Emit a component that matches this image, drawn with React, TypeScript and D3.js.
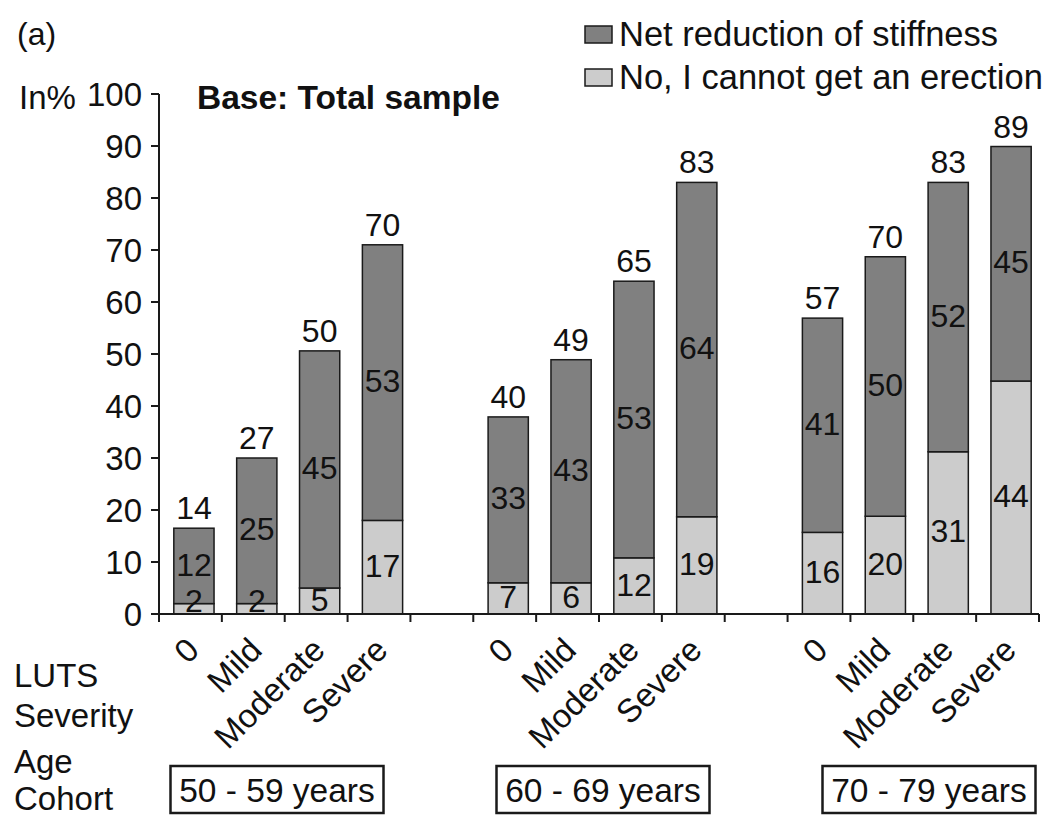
import React from "react";
import * as d3 from "d3";

// ---- data ----
const cohorts = ["50 - 59 years", "60 - 69 years", "70 - 79 years"];
const severities = ["0", "Mild", "Moderate", "Severe"];
// drawn segment heights
const noErection = [2, 2, 5, 18, 6, 6, 10.8, 18.7, 15.7, 18.8, 31.2, 44.8];
const netReduction = [14.5, 28, 45.6, 53, 31.9, 42.9, 53.2, 64.3, 41.2, 49.9, 51.8, 45.1];
// printed labels
const noErectionLabels = [2, 2, 5, 17, 7, 6, 12, 19, 16, 20, 31, 44];
const netReductionLabels = [12, 25, 45, 53, 33, 43, 53, 64, 41, 50, 52, 45];
const totalLabels = [14, 27, 50, 70, 40, 49, 65, 83, 57, 70, 83, 89];
const yTicks = [0, 10, 20, 30, 40, 50, 60, 70, 80, 90, 100];
const seriesNames = ["Net reduction of stiffness", "No, I cannot get an erection"];

const DARK = "#808080";
const LIGHT = "#cccccc";
const STROKE = "#1a1a1a";
const FONT = "'Liberation Sans', Arial, Helvetica, sans-serif";

export default function App() {
  const W = 1050, H = 819;
  // slots: 4 bars, gap, 4 bars, gap, 4 bars
  const slots: string[] = [];
  cohorts.forEach((c, gi) => {
    severities.forEach((s) => slots.push(`${gi}-${s}`));
    if (gi < cohorts.length - 1) slots.push(`gap-${gi}`);
  });
  const x = d3.scaleBand<string>().domain(slots).range([159, 1039]).padding(0);
  const y = d3.scaleLinear().domain([0, 100]).range([614, 94]);
  const step = x.step();
  const barW = step * 0.64;

  const bars = noErection.map((v, i) => {
    const gi = Math.floor(i / 4);
    const s = severities[i % 4];
    const key = `${gi}-${s}`;
    const cx = (x(key) as number) + step / 2 + 3.5;
    return {
      i,
      cx,
      light: v,
      dark: netReduction[i],
      total: v + netReduction[i],
      sev: s,
    };
  });

  const cohortX = d3.scalePoint<string>().domain(cohorts).range([277, 929]);

  return (
    <svg
      width={W}
      height={H}
      style={{ position: "absolute", left: 0, top: 0, background: "#fff" }}
      fontFamily={FONT}
    >
      <rect x={0} y={0} width={W} height={H} fill="#fff" />
      <text x={17} y={45} fontSize={32} fill="#111">(a)</text>

      {/* legend */}
      {[DARK, LIGHT].map((c, k) => (
        <g key={k}>
          <rect x={585} y={26 + k * 43} width={27} height={17} fill={c} stroke={STROKE} strokeWidth={1.5} />
          <text x={619} y={46 + k * 43} fontSize={34.5} fill="#111">{seriesNames[k]}</text>
        </g>
      ))}

      <text x={197} y={109} fontSize={33.5} fontWeight="bold" fill="#111">Base: Total sample</text>
      <text x={19} y={109} fontSize={33} fill="#111">In%</text>

      {/* y axis */}
      <line x1={159} x2={159} y1={y(100)} y2={y(0)} stroke={STROKE} strokeWidth={2} />
      {yTicks.map((t) => (
        <g key={t}>
          <line x1={151} x2={159} y1={y(t)} y2={y(t)} stroke={STROKE} strokeWidth={2} />
          <text x={142} y={y(t)} dy="0.36em" textAnchor="end" fontSize={33} fill="#111">{t}</text>
        </g>
      ))}

      {/* bars */}
      {bars.map((b) => (
        <g key={b.i}>
          <rect x={b.cx - barW / 2} y={y(b.light)} width={barW} height={y(0) - y(b.light)} fill={LIGHT} stroke={STROKE} strokeWidth={1.5} />
          <rect x={b.cx - barW / 2} y={y(b.total)} width={barW} height={y(b.light) - y(b.total)} fill={DARK} stroke={STROKE} strokeWidth={1.5} />
          <text x={b.cx} y={Math.min((y(0) + y(b.light)) / 2, 602)} dy="0.3em" textAnchor="middle" fontSize={32} fill="#111">{noErectionLabels[b.i]}</text>
          <text x={b.cx} y={(y(b.light) + y(b.total)) / 2} dy="0.3em" textAnchor="middle" fontSize={32} fill="#111">{netReductionLabels[b.i]}</text>
          <text x={b.cx} y={y(b.total) - 9} textAnchor="middle" fontSize={32} fill="#111">{totalLabels[b.i]}</text>
          <text
            transform={`translate(${b.cx + 7},${652}) rotate(-45)`}
            textAnchor="end"
            fontSize={33}
            fill="#111"
          >{b.sev}</text>
        </g>
      ))}

      {/* x axis */}
      <line x1={159} x2={1039} y1={y(0)} y2={y(0)} stroke={STROKE} strokeWidth={2} />
      {slots.map((s) => (
        <line key={s} x1={x(s) as number} x2={x(s) as number} y1={y(0)} y2={y(0) + 8} stroke={STROKE} strokeWidth={2} />
      ))}
      <line x1={1039} x2={1039} y1={y(0)} y2={y(0) + 8} stroke={STROKE} strokeWidth={2} />

      {/* row titles */}
      <text x={14} y={687} fontSize={33} fill="#111">LUTS</text>
      <text x={14} y={727} fontSize={33} fill="#111">Severity</text>
      <text x={14} y={773} fontSize={33} fill="#111">Age</text>
      <text x={14} y={810} fontSize={33} fill="#111">Cohort</text>

      {/* cohort boxes */}
      {cohorts.map((c) => (
        <g key={c}>
          <rect x={(cohortX(c) as number) - 106.5} y={766} width={213} height={47} fill="none" stroke={STROKE} strokeWidth={2.5} />
          <text x={cohortX(c) as number} y={790} dy="0.36em" textAnchor="middle" fontSize={33.5} fill="#111">{c}</text>
        </g>
      ))}
    </svg>
  );
}
